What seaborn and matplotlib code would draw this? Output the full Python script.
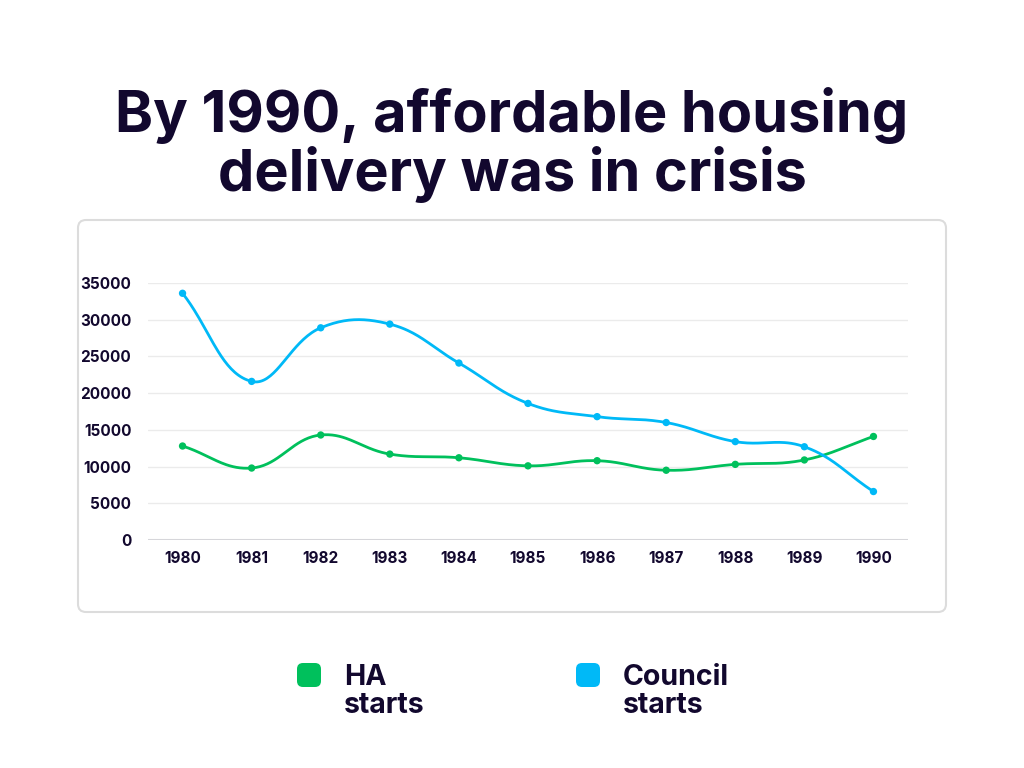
import numpy as np
import pandas as pd
import seaborn as sns
import matplotlib.pyplot as plt
from matplotlib.patches import FancyBboxPatch

# data
years = ["1980", "1981", "1982", "1983", "1984", "1985", "1986", "1987", "1988", "1989", "1990"]
ha_starts = [12800, 9800, 14300, 11700, 11200, 10100, 10800, 9500, 10300, 10900, 14100]
council_starts = [33600, 21600, 28900, 29400, 24100, 18600, 16800, 16000, 13400, 12700, 6600]

GREEN = "#00c05c"
BLUE = "#00b9f7"
INK = "#12082e"


def smooth(ys, sx=69.1, sy=257 / 35000, tension=0.4, n=40):
    # bezier spline like Chart.js (tension 0.4), worked out in pixel space
    px = np.arange(len(ys)) * sx
    py = np.asarray(ys, float) * sy
    m = len(px)
    cprev = np.zeros((m, 2))
    cnext = np.zeros((m, 2))
    for i in range(m):
        a, b = max(i - 1, 0), min(i + 1, m - 1)
        d01 = np.hypot(px[i] - px[a], py[i] - py[a])
        d12 = np.hypot(px[b] - px[i], py[b] - py[i])
        tot = d01 + d12
        fa = tension * (d01 / tot if tot else 0)
        fb = tension * (d12 / tot if tot else 0)
        dx, dy = px[b] - px[a], py[b] - py[a]
        cprev[i] = (px[i] - fa * dx, py[i] - fa * dy)
        cnext[i] = (px[i] + fb * dx, py[i] + fb * dy)
    t = np.linspace(0, 1, n)[:, None]
    pts = []
    for i in range(m - 1):
        p0 = np.array([px[i], py[i]])
        p3 = np.array([px[i + 1], py[i + 1]])
        seg = ((1 - t) ** 3) * p0 + 3 * ((1 - t) ** 2) * t * cnext[i] \
            + 3 * (1 - t) * t ** 2 * cprev[i + 1] + t ** 3 * p3
        pts.append(seg)
    pts = np.vstack(pts)
    return pd.DataFrame({"x": pts[:, 0] / sx, "y": pts[:, 1] / sy})


sns.set_theme(style="white")
plt.rcParams["font.family"] = ["Inter", "DejaVu Sans"]

fig = plt.figure(figsize=(10.24, 7.68), dpi=100)

# background layer in pixel coordinates
bg = fig.add_axes([0, 0, 1, 1])
bg.set_xlim(0, 1024)
bg.set_ylim(768, 0)
bg.axis("off")
bg.add_patch(FancyBboxPatch((78, 220), 868, 392, boxstyle="round,pad=0,rounding_size=8",
                            fc="white", ec="#dcdcdc", lw=1.5))

# title
bg.text(512, 132, "By 1990, affordable housing", ha="center", va="baseline",
        fontsize=41.5, fontweight="bold", color=INK)
bg.text(512, 191, "delivery was in crisis", ha="center", va="baseline",
        fontsize=41.5, fontweight="bold", color=INK)

# legend
for x0, col, lab in [(297, GREEN, "HA"), (576, BLUE, "Council")]:
    bg.add_patch(FancyBboxPatch((x0, 663), 24, 24, boxstyle="round,pad=0,rounding_size=6",
                                fc=col, ec="none"))
    bg.text(x0 + 47, 685, lab, fontsize=20.5, fontweight="bold", color=INK, va="baseline")
    bg.text(x0 + 47, 713, "starts", fontsize=20.5, fontweight="bold", color=INK, va="baseline")

# main chart
ax = fig.add_axes([148 / 1024, 1 - 540 / 768, 760 / 1024, 257 / 768])
ax.set_facecolor("none")

idx = np.arange(len(years))
for vals, col in [(ha_starts, GREEN), (council_starts, BLUE)]:
    sns.lineplot(data=smooth(vals), x="x", y="y", sort=False, estimator=None,
                 color=col, lw=2, ax=ax, zorder=3)
    sns.scatterplot(x=idx, y=vals, color=col, s=28, edgecolor="none", ax=ax, zorder=4)

ax.set_xlim(-0.5, len(years) - 0.5)
ax.set_ylim(0, 35000)
ax.set_xticks(idx)
ax.set_xticklabels(years)
ax.set_yticks(range(0, 35001, 5000))
ax.set_xlabel("")
ax.set_ylabel("")
ax.grid(axis="y", color="#ebebeb", lw=1)
ax.grid(axis="x", visible=False)
ax.axhline(0, color="#d6d6da", lw=1.5, zorder=2)
for s in ax.spines.values():
    s.set_visible(False)
ax.tick_params(axis="both", length=0, labelsize=11, labelcolor=INK)
ax.tick_params(axis="y", pad=12)
ax.tick_params(axis="x", pad=8)
for lbl in ax.get_xticklabels() + ax.get_yticklabels():
    lbl.set_fontweight("bold")

fig.savefig("out.png", dpi=100)
